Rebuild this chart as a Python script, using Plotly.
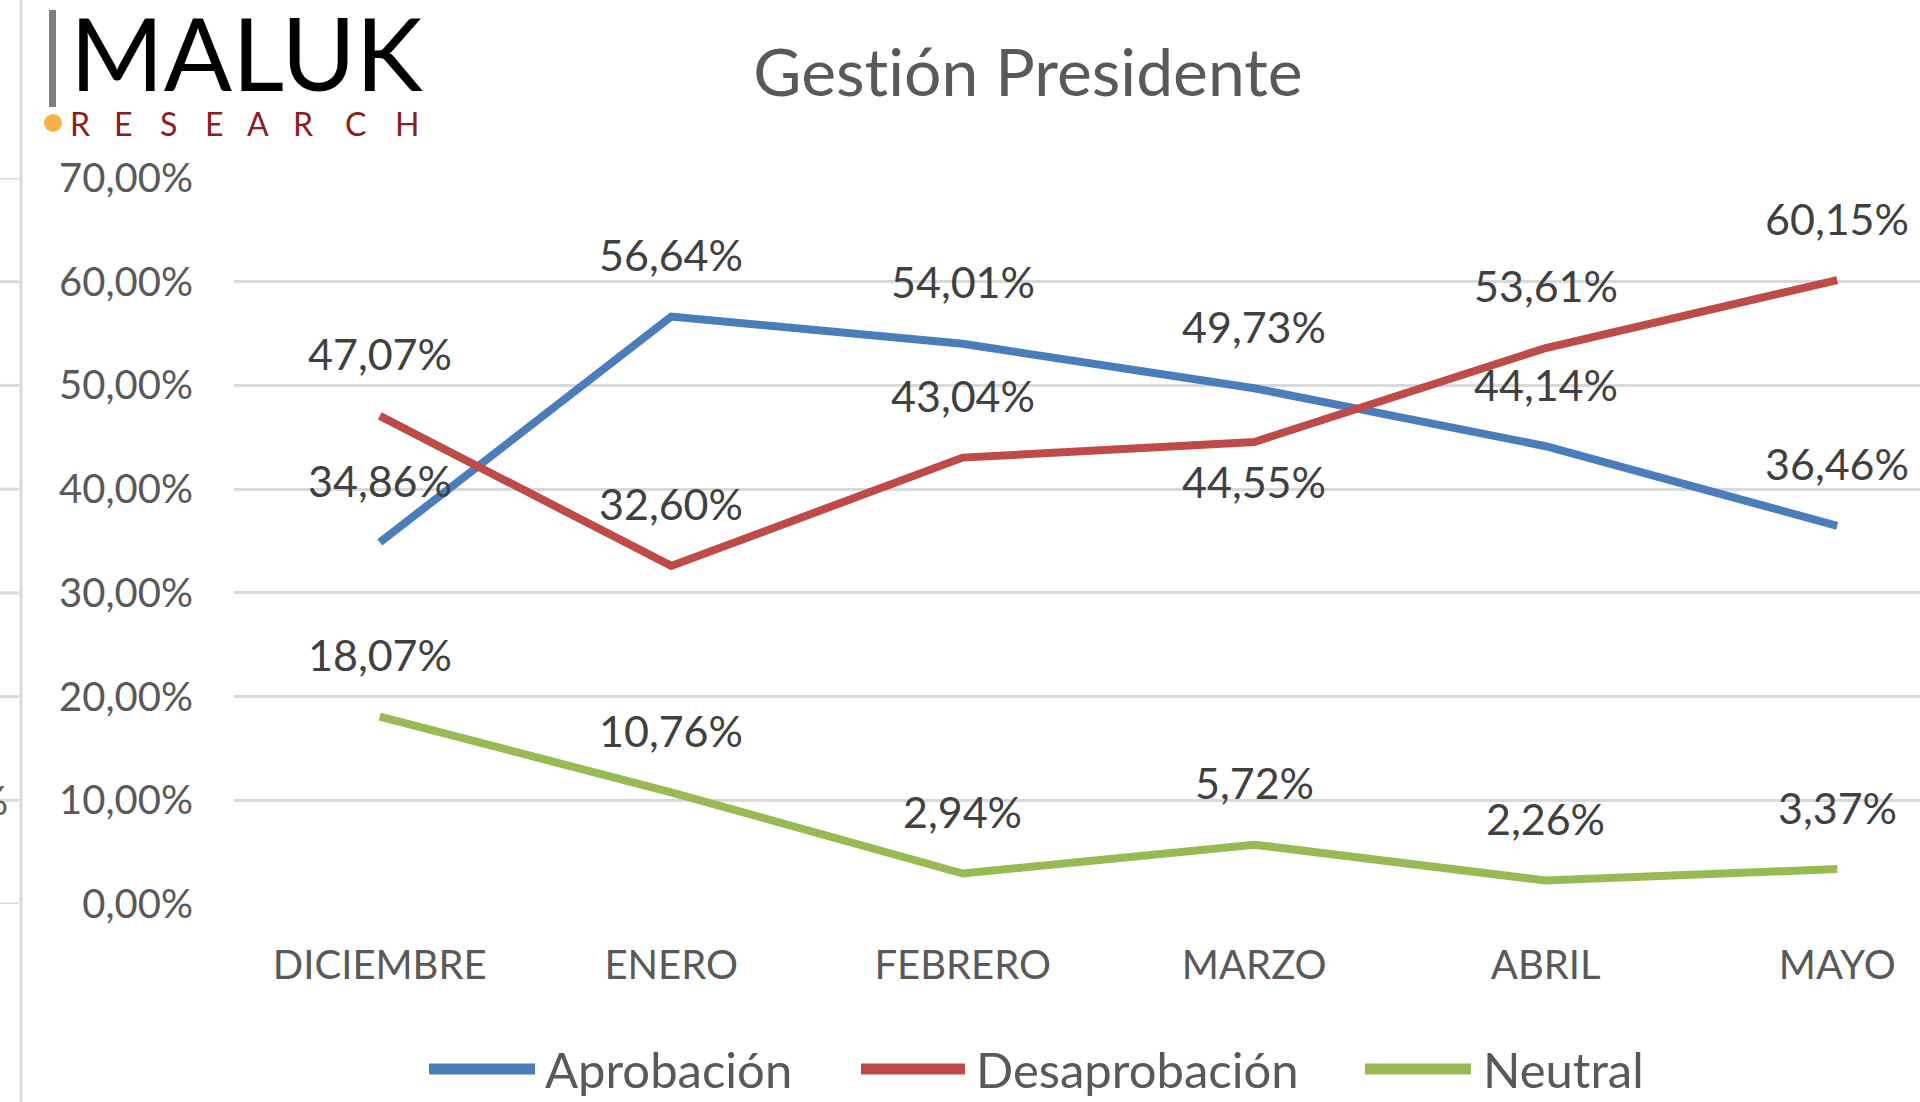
import plotly.graph_objects as go

# ---------------- data ----------------
months = ["DICIEMBRE", "ENERO", "FEBRERO", "MARZO", "ABRIL", "MAYO"]
aprobacion = [34.86, 56.64, 54.01, 49.73, 44.14, 36.46]
desaprobacion = [47.07, 32.60, 43.04, 44.55, 53.61, 60.15]
neutral = [18.07, 10.76, 2.94, 5.72, 2.26, 3.37]

series_names = ["Aprobación", "Desaprobación", "Neutral"]
series_values = [aprobacion, desaprobacion, neutral]
series_colors = ["#4A7DBA", "#BE4B48", "#98B954"]
# label placement per point (above / below the point)
label_pos = [
    ["above"] * 6,
    ["above", "above", "above", "below", "above", "above"],
    ["above"] * 6,
]
y_ticks = [0, 10, 20, 30, 40, 50, 60, 70]
y_ticktext = ["0,00%", "10,00%", "20,00%", "30,00%", "40,00%", "50,00%", "60,00%", "70,00%"]
# zero-width non-joiner keeps Lato from forming the "ti" ligature
title_text = "Gest\u200ción Presidente"

# ---------------- geometry helpers (pixels -> paper) ----------------
W, H = 1920, 1102
L, R, T, B = 234, 1920, 178, 904


def xp(px):
    return (px - L) / (R - L)


def yp(py):
    return (B - py) / (B - T)


def pct(v):
    return f"{v:.2f}".replace(".", ",") + "%"


FONT = "Lato"
TXT = "#595959"

fig = go.Figure()
for name, vals, col in zip(series_names, series_values, series_colors):
    fig.add_trace(go.Scatter(
        x=months, y=vals, mode="lines", name=name,
        line=dict(color=col, width=8), showlegend=False,
    ))

annotations = []
# data labels
for vals, poss in zip(series_values, label_pos):
    for m, v, p in zip(months, vals, poss):
        annotations.append(dict(
            x=m, y=v, xref="x", yref="y",
            text=pct(v),
            showarrow=False, yshift=62 if p == "above" else -40,
            font=dict(family=FONT, size=43, color="#404040"),
        ))

shapes = []
# manual legend
legend_items = [(429, 535, 543), (861, 965, 974), (1365, 1471, 1481)]
for (x0, x1, tx), name, col in zip(legend_items, series_names, series_colors):
    shapes.append(dict(type="line", xref="paper", yref="paper",
                       x0=xp(x0), x1=xp(x1), y0=yp(1069), y1=yp(1069),
                       line=dict(color=col, width=11)))
    annotations.append(dict(x=xp(tx), y=yp(1069), xref="paper", yref="paper",
                            xanchor="left", yanchor="middle", showarrow=False,
                            text=name, font=dict(family=FONT, size=49, color=TXT)))

# logo
shapes.append(dict(type="rect", xref="paper", yref="paper",
                   x0=xp(49), x1=xp(56), y0=yp(107), y1=yp(10),
                   fillcolor="#7F7F7F", line=dict(width=0)))
shapes.append(dict(type="circle", xref="paper", yref="paper",
                   x0=xp(44), x1=xp(62), y0=yp(132), y1=yp(114),
                   fillcolor="#F8B04A", line=dict(width=0)))
annotations.append(dict(x=xp(68), y=yp(52), xref="paper", yref="paper",
                        xanchor="left", yanchor="middle", showarrow=False,
                        text="MALUK", font=dict(family=FONT, size=101, color="#000000")))
for ch, cx in zip("RESEARCH", [80, 123, 168, 214, 258, 303, 355, 407]):
    annotations.append(dict(x=xp(cx), y=yp(123), xref="paper", yref="paper",
                            xanchor="center", yanchor="middle", showarrow=False,
                            text=ch, font=dict(family=FONT, size=32, color="#8B1C20")))

# left-edge remnants of neighbouring chart
shapes.append(dict(type="line", xref="paper", yref="paper",
                   x0=xp(21), x1=xp(21), y0=yp(H), y1=yp(0),
                   line=dict(color="#D9D9D9", width=3)))
for t in y_ticks:
    shapes.append(dict(type="line", xref="paper", yref="y",
                       x0=xp(0), x1=xp(19), y0=t, y1=t,
                       line=dict(color="#D9D9D9", width=3)))
annotations.append(dict(x=xp(10), y=10, xref="paper", yref="y",
                        xanchor="right", yanchor="middle", showarrow=False,
                        text="%", font=dict(family=FONT, size=40, color=TXT)))

fig.update_layout(
    width=W, height=H,
    margin=dict(l=L, r=W - R, t=T, b=H - B, pad=0),
    paper_bgcolor="white", plot_bgcolor="white",
    title=dict(text=title_text, x=1028 / W, y=1 - 73 / H,
               xanchor="center", yanchor="middle",
               font=dict(family=FONT, size=66, color=TXT)),
    showlegend=False,
    annotations=annotations,
    shapes=shapes,
)
fig.update_xaxes(
    type="category", categoryorder="array", categoryarray=months,
    range=[-0.5, 5.284],
    showgrid=False, zeroline=False, showline=False,
    ticks="outside", ticklen=26, tickcolor="rgba(0,0,0,0)",
    tickfont=dict(family=FONT, size=40, color=TXT),
)
fig.update_yaxes(
    range=[0, 70], tickvals=y_ticks, ticktext=y_ticktext,
    showgrid=True, gridcolor="#D9D9D9", gridwidth=3,
    zeroline=False, showline=False,
    ticks="outside", ticklen=32, tickcolor="rgba(0,0,0,0)",
    tickfont=dict(family=FONT, size=40, color=TXT),
)

fig.write_html("out.html", config={"displayModeBar": False},
               post_script="document.body.style.margin='0';document.body.style.overflow='hidden';")
